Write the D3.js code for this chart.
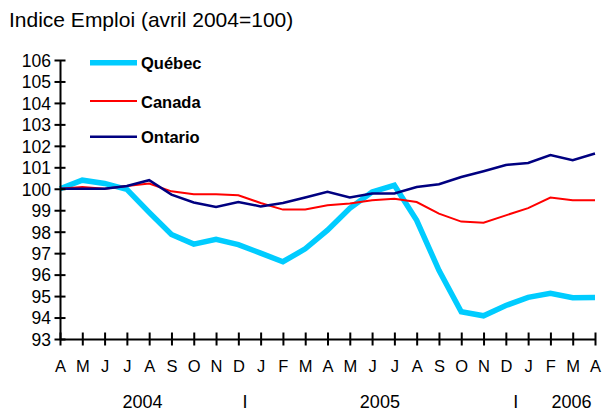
<!DOCTYPE html>
<html>
<head>
<meta charset="utf-8">
<script src="https://cdn.jsdelivr.net/npm/d3@7/dist/d3.min.js"></script>
<style>
  html, body { margin: 0; padding: 0; background: #fff; }
  svg { display: block; font-family: "Liberation Sans", Arial, sans-serif; }
</style>
</head>
<body>
<svg id="chart" width="603" height="412"></svg>
<script>
const title = "Indice Emploi (avril 2004=100)";
const months = ["A","M","J","J","A","S","O","N","D","J","F","M","A","M","J","J","A","S","O","N","D","J","F","M","A"];
const quebec  = [100, 100.4, 100.25, 99.97, 98.9, 97.87, 97.42, 97.64, 97.4, 97.0, 96.6, 97.2, 98.07, 99.09, 99.85, 100.16, 98.53, 96.2, 94.27, 94.08, 94.56, 94.94, 95.13, 94.92, 94.93];
const canada  = [100, 100.08, 100.0, 100.13, 100.24, 99.88, 99.75, 99.74, 99.7, 99.34, 99.03, 99.03, 99.23, 99.31, 99.46, 99.54, 99.38, 98.84, 98.47, 98.42, 98.76, 99.1, 99.59, 99.46, 99.46];
const ontario = [100, 100.0, 100.0, 100.13, 100.4, 99.73, 99.36, 99.15, 99.38, 99.18, 99.34, 99.59, 99.86, 99.59, 99.78, 99.78, 100.08, 100.21, 100.55, 100.82, 101.11, 101.2, 101.57, 101.33, 101.64];
const yTicks = [93,94,95,96,97,98,99,100,101,102,103,104,105,106];
const yearLabels = ["2004", "I", "2005", "I", "2006"];
const yearLabelAt = [3.7, 8.3, 14.35, 20.45, 22.95]; // month-index slots
const seriesNames = ["Québec", "Canada", "Ontario"];
const seriesColors = ["#00CCFF", "#FF0000", "#000080"];
const seriesWidths = [5.5, 2, 2.5];

const svg = d3.select("#chart");
const x = d3.scaleLinear().domain([0, months.length - 1]).range([60, 595]);
const y = d3.scaleLinear().domain([93, 106]).range([339, 60]);

svg.append("text").attr("x", 9).attr("y", 27).attr("font-size", 21).attr("fill", "#000").text(title);

// lines
const seriesData = [quebec, canada, ontario];
const line = d3.line().x((d, i) => x(i)).y(d => y(d));
seriesData.forEach((s, k) => {
  svg.append("path").datum(s).attr("d", line)
    .attr("fill", "none").attr("stroke", seriesColors[k])
    .attr("stroke-width", seriesWidths[k]).attr("stroke-linejoin", "miter");
});

// y axis
const yAxis = d3.axisLeft(y).tickValues(yTicks).tickSize(0).tickPadding(9).tickFormat(d3.format("d"));
const gy = svg.append("g").attr("transform", "translate(60,0)").call(yAxis);
gy.select(".domain").attr("stroke", "#000").attr("stroke-width", 2);
gy.selectAll(".tick line").remove();
gy.selectAll(".tick").append("line").attr("x1", -5.5).attr("x2", 5.5).attr("stroke", "#000").attr("stroke-width", 2);
gy.selectAll(".tick text").attr("font-size", 17.5).attr("fill", "#000").attr("font-family", "Liberation Sans, Arial, sans-serif").attr("dy", "0.36em");

// x axis
const xAxis = d3.axisBottom(x).tickValues(d3.range(months.length)).tickSize(0).tickPadding(33).tickFormat(i => months[i]);
const gx = svg.append("g").attr("transform", "translate(0,339)").call(xAxis);
gx.select(".domain").attr("stroke", "#000").attr("stroke-width", 2);
gx.selectAll(".tick line").remove();
gx.selectAll(".tick").append("line").attr("y1", -6.5).attr("y2", 6.5).attr("stroke", "#000").attr("stroke-width", 2);
gx.selectAll(".tick text").attr("font-size", 16.5).attr("fill", "#000").attr("font-family", "Liberation Sans, Arial, sans-serif").attr("dy", "0em");

// year labels
svg.append("g").selectAll("text").data(yearLabels).join("text")
  .attr("x", (d, i) => x(yearLabelAt[i])).attr("y", 408)
  .attr("text-anchor", "middle").attr("font-size", 18).attr("fill", "#000")
  .text(d => d);

// legend
const legendY = [62.7, 101, 136.7];
const lg = svg.append("g");
seriesNames.forEach((n, k) => {
  lg.append("line").attr("x1", 90).attr("x2", 137).attr("y1", legendY[k]).attr("y2", legendY[k])
    .attr("stroke", seriesColors[k]).attr("stroke-width", seriesWidths[k]);
  lg.append("text").attr("x", 141).attr("y", legendY[k] + 6.5).attr("font-size", 16.5)
    .attr("font-weight", "bold").attr("fill", "#000").text(n);
});
</script>
</body>
</html>
